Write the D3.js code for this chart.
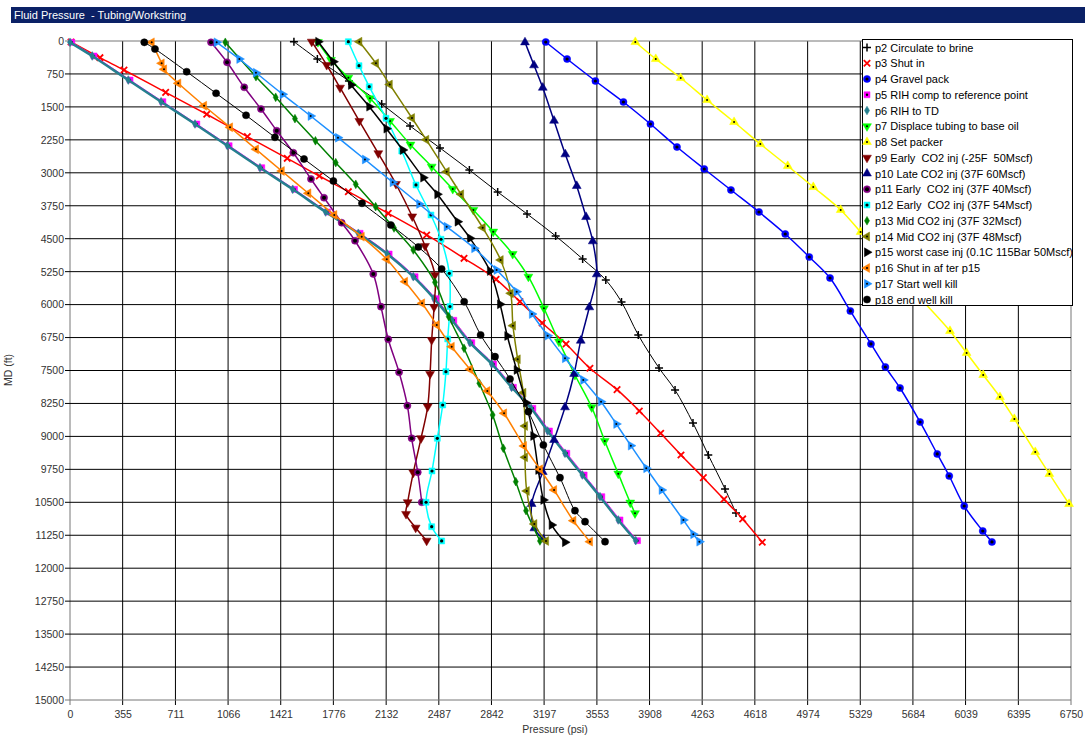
<!DOCTYPE html>
<html>
<head>
<meta charset="utf-8">
<script src="https://cdn.jsdelivr.net/npm/d3@7"></script>
<style>
    body { margin: 0; background: #fff; }
    text { font-family: 'Liberation Sans', Arial, sans-serif; }
</style>
</head>
<body>
<div id="chart"></div>
<script>
// tick labels
var xTicks = [0, 355, 711, 1066, 1421, 1776, 2132, 2487, 2842, 3197, 3553, 3908, 4263, 4618, 4974, 5329, 5684, 6039, 6395, 6750];
var yTicks = [0, 750, 1500, 2250, 3000, 3750, 4500, 5250, 6000, 6750, 7500, 8250, 9000, 9750, 10500, 11250, 12000, 12750, 13500, 14250, 15000];

// series values: pressure (psi) and measured depth (ft)
var p2Press = [1510, 1668, 1881, 2102, 2293, 2495, 2693, 2884, 3082, 3275, 3457, 3613, 3719, 3832, 3972, 4080, 4201, 4304, 4417, 4491];
var p2Depth = [16, 410, 910, 1434, 1935, 2435, 2936, 3437, 3937, 4438, 4962, 5440, 5940, 6691, 7443, 7943, 8694, 9423, 10197, 10743];
var p3Press = [7, 202, 364, 645, 922, 1196, 1465, 1681, 1877, 2146, 2405, 2657, 2873, 3034, 3184, 3345, 3506, 3689, 3839, 3983, 4120, 4271, 4410, 4536, 4668];
var p3Depth = [23, 380, 660, 1168, 1668, 2178, 2670, 3073, 3430, 3922, 4415, 4946, 5424, 5933, 6418, 6896, 7449, 7936, 8421, 8929, 9423, 9939, 10431, 10879, 11410];
var p4Press = [3208, 3352, 3543, 3732, 3914, 4093, 4277, 4457, 4646, 4823, 4985, 5125, 5262, 5401, 5498, 5597, 5732, 5848, 5929, 6030, 6155, 6217];
var p4Depth = [23, 410, 910, 1388, 1889, 2413, 2913, 3391, 3892, 4393, 4916, 5394, 6145, 6896, 7420, 7898, 8672, 9400, 9901, 10584, 11153, 11403];
var p5Press = [12, 162, 405, 626, 855, 1073, 1293, 1514, 1736, 1956, 2152, 2327, 2467, 2588, 2709, 2856, 2990, 3121, 3233, 3350, 3467, 3586, 3709, 3827];
var p5Depth = [30, 341, 888, 1382, 1889, 2383, 2884, 3375, 3892, 4377, 4848, 5365, 5865, 6357, 6867, 7351, 7882, 8360, 8877, 9384, 9878, 10372, 10902, 11373];
var p6Press = [0, 150, 393, 614, 843, 1061, 1281, 1502, 1724, 1944, 2140, 2315, 2455, 2576, 2697, 2844, 2978, 3109, 3221, 3338, 3455, 3574, 3697, 3815];
var p6Depth = [30, 341, 888, 1382, 1889, 2383, 2884, 3375, 3892, 4377, 4848, 5365, 5865, 6357, 6867, 7351, 7882, 8360, 8877, 9384, 9878, 10372, 10902, 11373];
var p7Press = [1672, 1760, 1877, 2023, 2158, 2296, 2439, 2581, 2720, 2854, 2985, 3091, 3196, 3297, 3405, 3518, 3606, 3697, 3778, 3810];
var p7Depth = [23, 432, 835, 1304, 1821, 2360, 2861, 3368, 3846, 4340, 4848, 5365, 6084, 6844, 7602, 8337, 9104, 9848, 10508, 10750];
var p8Press = [3812, 3950, 4118, 4296, 4478, 4655, 4840, 5012, 5197, 5331, 5464, 5598, 5732, 5934, 6046, 6158, 6271, 6368, 6509, 6604, 6737];
var p8Depth = [23, 410, 842, 1343, 1844, 2345, 2845, 3323, 3846, 4347, 4848, 5349, 5849, 6600, 7101, 7602, 8103, 8603, 9355, 9855, 10538];
var p9Press = [1630, 1731, 1821, 1951, 2079, 2198, 2308, 2394, 2461, 2455, 2439, 2428, 2412, 2367, 2315, 2277, 2266, 2331, 2405];
var p9Depth = [16, 546, 1063, 1821, 2556, 3255, 3994, 4666, 5326, 6054, 6805, 7579, 8323, 9043, 9825, 10499, 10766, 11078, 11374];
var p10Press = [3068, 3129, 3188, 3264, 3340, 3417, 3480, 3525, 3552, 3502, 3444, 3399, 3338, 3264, 3188, 3113, 3131, 3192];
var p10Depth = [30, 553, 1063, 1814, 2579, 3300, 4006, 4559, 5310, 6061, 6821, 7579, 8337, 9081, 9810, 10538, 11091, 11341];
var p11Press = [951, 1059, 1175, 1288, 1394, 1506, 1625, 1713, 1832, 1922, 2045, 2097, 2146, 2219, 2275, 2304, 2345, 2372];
var p11Depth = [30, 485, 1054, 1548, 2042, 2543, 3141, 3567, 4136, 4546, 5303, 6047, 6789, 7541, 8301, 9043, 9816, 10499];
var p12Press = [1877, 1949, 2018, 2131, 2237, 2333, 2434, 2502, 2558, 2562, 2547, 2535, 2513, 2477, 2441, 2401, 2439, 2506];
var p12Depth = [16, 562, 1040, 1759, 2504, 3277, 3960, 4513, 5287, 6043, 6782, 7527, 8285, 9043, 9787, 10499, 11055, 11380];
var p13Press = [1047, 1254, 1387, 1517, 1655, 1792, 1927, 2061, 2185, 2315, 2461, 2554, 2657, 2760, 2850, 2922, 3006, 3075, 3169];
var p13Depth = [30, 813, 1281, 1768, 2271, 2770, 3262, 3771, 4256, 4757, 5492, 6275, 6994, 7791, 8512, 9270, 10030, 10690, 11380];
var p14Press = [1951, 2063, 2156, 2306, 2402, 2540, 2637, 2783, 2904, 2972, 2987, 3019, 3057, 3068, 3068, 3080, 3131, 3210];
var p14Depth = [16, 508, 990, 1753, 2246, 2975, 3489, 4249, 4985, 5743, 6480, 7245, 8005, 8763, 9475, 10242, 10993, 11380];
var p15Press = [1674, 1776, 1895, 2018, 2134, 2244, 2382, 2477, 2614, 2697, 2832, 2900, 2949, 3012, 3075, 3124, 3158, 3192, 3248, 3338];
var p15Depth = [16, 471, 1001, 1495, 1996, 2481, 3111, 3489, 4113, 4490, 5235, 5993, 6714, 7488, 8232, 8990, 9764, 10447, 11016, 11410];
var p16Press = [551, 618, 634, 730, 904, 1079, 1254, 1428, 1607, 1782, 1967, 2136, 2259, 2374, 2473, 2574, 2697, 2814, 2927, 3061, 3169, 3264, 3394, 3506];
var p16Depth = [30, 508, 644, 963, 1473, 1964, 2465, 2959, 3466, 3960, 4454, 4969, 5478, 5970, 6464, 6958, 7473, 7966, 8474, 9218, 9748, 10219, 10918, 11396];
var p17Press = [989, 1142, 1254, 1434, 1623, 1807, 1989, 2176, 2355, 2540, 2726, 2877, 3012, 3115, 3221, 3338, 3461, 3581, 3684, 3782, 3886, 3990, 4136, 4203, 4244];
var p17Depth = [30, 410, 722, 1213, 1707, 2201, 2697, 3216, 3710, 4227, 4718, 5212, 5706, 6213, 6707, 7222, 7716, 8210, 8717, 9211, 9725, 10219, 10902, 11227, 11396];
var p18Press = [501, 573, 787, 985, 1187, 1382, 1578, 1776, 1969, 2163, 2349, 2506, 2658, 2769, 2866, 2967, 3091, 3192, 3304, 3405, 3473, 3608];
var p18Depth = [30, 182, 699, 1190, 1691, 2192, 2686, 3186, 3694, 4188, 4689, 5189, 5934, 6691, 7185, 7693, 8437, 9195, 9939, 10690, 10941, 11396];

var names = ['p2 Circulate to brine', 'p3 Shut in', 'p4 Gravel pack', 'p5 RIH comp to reference point',
    'p6 RIH to TD', 'p7 Displace tubing to base oil', 'p8 Set packer', 'p9 Early  CO2 inj (-25F  50Mscf)',
    'p10 Late CO2 inj (37F 60Mscf)', 'p11 Early  CO2 inj (37F 40Mscf)', 'p12 Early  CO2 inj (37F 54Mscf)',
    'p13 Mid CO2 inj (37F 32Mscf)', 'p14 Mid CO2 inj (37F 48Mscf)', 'p15 worst case inj (0.1C 115Bar 50Mscf)',
    'p16 Shut in af ter p15', 'p17 Start well kill', 'p18 end well kill'];

var series = [
    { press: p2Press, depth: p2Depth, color: '#000000', lw: 1, marker: 'plus' },
    { press: p3Press, depth: p3Depth, color: '#ff0000', lw: 1.5, marker: 'times' },
    { press: p4Press, depth: p4Depth, color: '#0000ff', lw: 1.5, marker: 'circle', dot: 1.6 },
    { press: p5Press, depth: p5Depth, color: '#ff00ff', lw: 1, marker: 'square', dot: 1.2 },
    { press: p6Press, depth: p6Depth, color: '#25808f', lw: 2.5, marker: 'diamond' },
    { press: p7Press, depth: p7Depth, color: '#00ff00', lw: 1.5, marker: 'triDown', dot: 1 },
    { press: p8Press, depth: p8Depth, color: '#ffff00', lw: 1.5, marker: 'triUp', dot: 1 },
    { press: p9Press, depth: p9Depth, color: '#800000', lw: 1.5, marker: 'triDown' },
    { press: p10Press, depth: p10Depth, color: '#000080', lw: 1.5, marker: 'triUp' },
    { press: p11Press, depth: p11Depth, color: '#800080', lw: 1.5, marker: 'circle', dot: 2 },
    { press: p12Press, depth: p12Depth, color: '#00ffff', lw: 1.5, marker: 'square', dot: 1.6 },
    { press: p13Press, depth: p13Depth, color: '#008000', lw: 1.5, marker: 'diamond' },
    { press: p14Press, depth: p14Depth, color: '#808000', lw: 1.5, marker: 'triLeft', dot: 1 },
    { press: p15Press, depth: p15Depth, color: '#000000', lw: 1.5, marker: 'triRight' },
    { press: p16Press, depth: p16Depth, color: '#ff8000', lw: 1.5, marker: 'triLeft', dot: 1 },
    { press: p17Press, depth: p17Depth, color: '#1e90ff', lw: 1.5, marker: 'triRight', dot: 1 },
    { press: p18Press, depth: p18Depth, color: '#000000', lw: 1, marker: 'circle' }
];

var margin = {
    top: 41,
    right: 14,
    bottom: 36,
    left: 70
};
var width = 1085;
var height = 736;

var x = d3.scaleLinear()
    .domain([0, 6750])
    .range([margin.left, width - margin.right]);

var y = d3.scaleLinear()
    .domain([0, 15000])
    .range([margin.top, height - margin.bottom]);

var svg = d3.select('#chart')
    .append('svg')
    .attr('width', width)
    .attr('height', height);

// title bar
svg.append('rect')
    .attr('x', 11).attr('y', 7)
    .attr('width', width - 11).attr('height', 16)
    .attr('fill', '#0b2166');
svg.append('text')
    .attr('x', 14).attr('y', 19)
    .attr('fill', '#fff')
    .attr('font-size', 11)
    .style('white-space', 'pre')
    .text('Fluid Pressure  - Tubing/Workstring');

// grid
svg.append('g')
    .selectAll('line')
    .data(xTicks)
    .join('line')
    .attr('x1', d => x(d)).attr('x2', d => x(d))
    .attr('y1', margin.top).attr('y2', height - margin.bottom + 5)
    .attr('stroke', d => d === 0 || d === 6750 ? '#777' : '#000')
    .attr('stroke-width', 1);

svg.append('g')
    .selectAll('line')
    .data(yTicks)
    .join('line')
    .attr('x1', margin.left - 5).attr('x2', width - margin.right)
    .attr('y1', d => y(d)).attr('y2', d => y(d))
    .attr('stroke', d => d === 15000 || d === 0 ? '#777' : '#000')
    .attr('stroke-width', 1);

var xAxis = g => g
    .attr('transform', `translate(0,${height - margin.bottom})`)
    .call(d3.axisBottom(x).tickValues(xTicks).tickFormat(d => d).tickSize(0).tickPadding(11))
    .call(g => g.select('.domain').remove());

var yAxis = g => g
    .attr('transform', `translate(${margin.left},0)`)
    .call(d3.axisLeft(y).tickValues(yTicks).tickFormat(d => d).tickSize(0).tickPadding(6))
    .call(g => g.select('.domain').remove());

svg.append('g').call(xAxis)
    .selectAll('text')
    .attr('font-family', 'Liberation Sans, Arial, sans-serif')
    .attr('font-size', 10.5)
    .attr('fill', '#333');
svg.append('g').call(yAxis)
    .selectAll('text')
    .attr('font-family', 'Liberation Sans, Arial, sans-serif')
    .attr('font-size', 10.5)
    .attr('fill', '#333');

svg.append('text')
    .attr('x', 555).attr('y', 733)
    .attr('text-anchor', 'middle')
    .attr('font-size', 10.5)
    .attr('fill', '#333')
    .text('Pressure (psi)');
svg.append('text')
    .attr('transform', 'translate(12,370) rotate(-90)')
    .attr('text-anchor', 'middle')
    .attr('font-size', 10.5)
    .attr('fill', '#333')
    .text('MD (ft)');

// marker shapes
var tri = d3.symbol().type(d3.symbolTriangle).size(34)();
function markerPath(type) {
    if (type === 'plus') return 'M-4,0H4M0,-4V4';
    if (type === 'times') return 'M-3.2,-3.2L3.2,3.2M-3.2,3.2L3.2,-3.2';
    if (type === 'circle') return d3.symbol().type(d3.symbolCircle).size(40)();
    if (type === 'square') return d3.symbol().type(d3.symbolSquare).size(36)();
    if (type === 'diamond') return d3.symbol().type(d3.symbolDiamond).size(22)();
    return tri;
}
function markerRotate(type) {
    if (type === 'triDown') return 180;
    if (type === 'triLeft') return -90;
    if (type === 'triRight') return 90;
    return 0;
}
function drawMarker(g, type, color, dot) {
    var stroked = type === 'plus' || type === 'times';
    g.append('path')
        .attr('d', markerPath(type))
        .attr('transform', `rotate(${markerRotate(type)})`)
        .attr('fill', stroked ? 'none' : color)
        .attr('stroke', color)
        .attr('stroke-width', stroked ? (type === 'times' ? 1.8 : 1.5) : 0.5);
    if (dot) {
        g.append('circle')
            .attr('r', dot)
            .attr('fill', '#000');
    }
}

var line = d3.line()
    .x(d => x(d[0]))
    .y(d => y(d[1]))
    .curve(d3.curveCatmullRom.alpha(0.5));

series.forEach(function (s, i) {
    var pts = s.press.map((p, j) => [p, s.depth[j]]);
    var g = svg.append('g').attr('id', 'G' + i);
    g.append('path')
        .datum(pts)
        .attr('fill', 'none')
        .attr('stroke', s.color)
        .attr('stroke-width', s.lw)
        .attr('stroke-linejoin', 'round')
        .attr('d', line);
    g.selectAll('g.m')
        .data(pts)
        .join('g')
        .attr('class', 'm')
        .attr('transform', d => `translate(${x(d[0])},${y(d[1])})`)
        .each(function () {
            drawMarker(d3.select(this), s.marker, s.color, s.dot);
        });
});

// legend
var legend = svg.append('g');
legend.append('rect')
    .attr('x', 862.5).attr('y', 39.5)
    .attr('width', 210).attr('height', 266)
    .attr('fill', '#fff')
    .attr('stroke', '#000');

series.forEach(function (s, i) {
    var ly = 47.5 + i * 15.75;
    var m = legend.append('g')
        .attr('transform', `translate(867,${ly})`);
    drawMarker(m, s.marker, s.color, s.dot);
    legend.append('text')
        .attr('x', 875).attr('y', ly + 4)
        .attr('font-size', 11)
        .attr('fill', '#000')
        .style('white-space', 'pre')
        .text(names[i]);
});
</script>
</body>
</html>
